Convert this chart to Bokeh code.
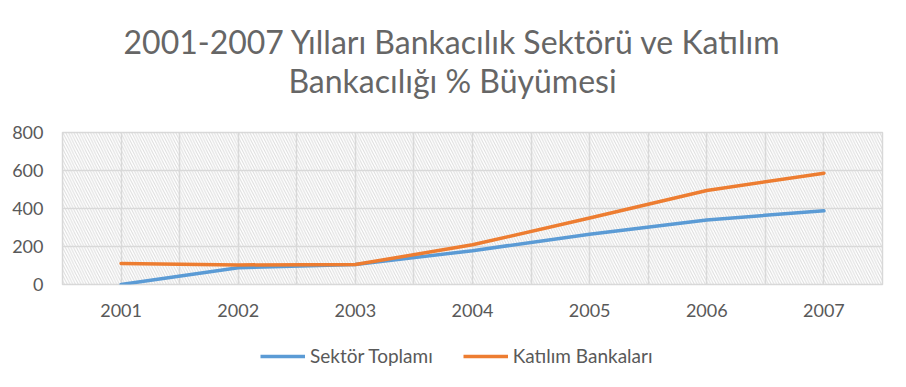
from bokeh.plotting import figure
from bokeh.layouts import column
from bokeh.models import (Range1d, FixedTicker, BoxAnnotation, Legend, LegendItem, Label)
from bokeh.embed import file_html
from bokeh.resources import INLINE

years = [2001, 2002, 2003, 2004, 2005, 2006, 2007]
sektor_toplami = [0, 88, 105, 178, 265, 340, 388]
katilim_bankalari = [110, 103, 105, 209, 350, 495, 586]
y_ticks = [0, 200, 400, 600, 800]
title_line1 = "2001-2007 Yılları Bankacılık Sektörü ve Katılım"
title_line2 = "Bankacılığı % Büyümesi"
series_names = ["Sektör Toplamı", "Katılım Bankaları"]
series_colors = ["#5B9BD5", "#ED7D31"]

FONT = "Lato"
GRAY = "#595959"
GRID = "#D9D9D9"
W = 890


def blank(height):
    f = figure(width=W, height=height, output_backend="svg", toolbar_location=None,
               x_axis_location=None, y_axis_location=None, min_border=0,
               x_range=Range1d(0, 1), y_range=Range1d(0, 1))
    f.grid.visible = False
    f.outline_line_color = None
    return f


# ---- title block (frames of the column are aligned with the main plot frame) ----
pt = blank(110)
for txt, ypos in ((title_line1, 69), (title_line2, 30)):
    pt.add_layout(Label(x=390, y=ypos, x_units="screen", y_units="screen", text=txt,
                        text_align="center", text_baseline="middle", text_font=FONT,
                        text_font_size="32px", text_color="#666666"))

# ---- main plot ----
p = figure(width=W, height=220, output_backend="svg", toolbar_location=None,
           x_range=Range1d(years[0] - 0.5, years[-1] + 0.5),
           y_range=Range1d(y_ticks[0], y_ticks[-1]),
           min_border_left=62, min_border_right=8, min_border_top=22, min_border_bottom=46)

p.add_layout(BoxAnnotation(fill_alpha=0, line_color=None, hatch_pattern="\\",
                           hatch_color="#C8C8C8", hatch_alpha=0.65, hatch_scale=5.5,
                           hatch_weight=1, level="image"))

p.outline_line_color = GRID
p.outline_line_width = 1.5

grid_ticks = []
for yr in years:
    grid_ticks += [yr - 0.5, yr]
grid_ticks.append(years[-1] + 0.5)
p.xgrid.ticker = FixedTicker(ticks=grid_ticks)
p.xaxis.ticker = FixedTicker(ticks=years)
p.yaxis.ticker = FixedTicker(ticks=y_ticks)
p.xgrid.grid_line_color = GRID
p.ygrid.grid_line_color = GRID
p.xgrid.grid_line_width = 1.5
p.ygrid.grid_line_width = 1.5

for ax in (p.xaxis[0], p.yaxis[0]):
    ax.axis_line_color = None
    ax.major_tick_line_color = None
    ax.minor_tick_line_color = None
    ax.major_label_text_font = FONT
    ax.major_label_text_font_size = "18px"
    ax.major_label_text_color = GRAY
p.yaxis.major_label_standoff = 13
p.xaxis.major_label_standoff = 13

for vals, col in zip((sektor_toplami, katilim_bankalari), series_colors):
    p.line(years, vals, line_color=col, line_width=3.5, line_cap="round", line_join="round")

# ---- legend block (lines drawn out of view, only the legend shows) ----
pl = blank(41)
items = []
for name, vals, col in zip(series_names, (sektor_toplami, katilim_bankalari), series_colors):
    r = pl.line(years, vals, line_color=col, line_width=3.5)
    items.append(LegendItem(label=name, renderers=[r]))
legend = Legend(items=items, orientation="horizontal", location=(198, 4),
                label_text_font=FONT, label_text_font_size="19px", label_text_color=GRAY,
                glyph_width=45, glyph_height=20, label_height=20, label_standoff=5, spacing=30,
                padding=0, margin=0, border_line_color=None, background_fill_alpha=0)
pl.add_layout(legend, "center")

layout = column(pt, p, pl, spacing=0)
open("out.html", "w").write(file_html(layout, INLINE))
